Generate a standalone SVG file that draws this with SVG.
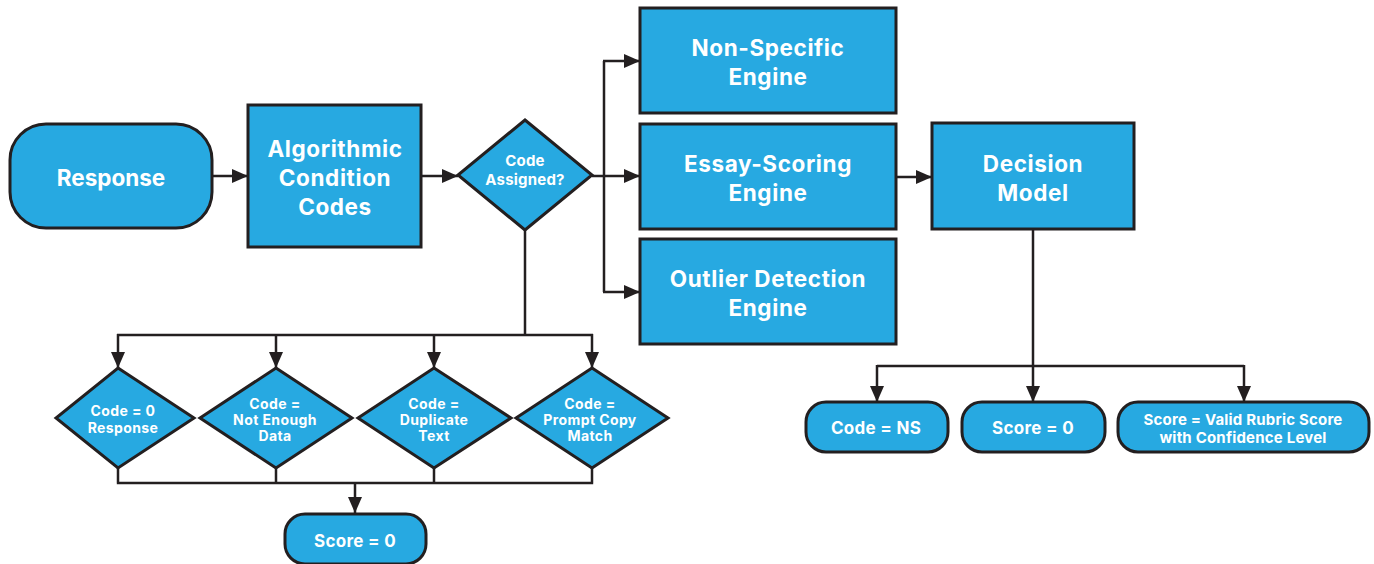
<svg xmlns="http://www.w3.org/2000/svg" width="1374" height="564" viewBox="0 0 1374 564">
  <defs>
    <style>
      .box { fill: #27a9e1; stroke: #231f20; stroke-width: 3; }
      .lbl { fill: #ffffff; font-family: Inter, "Liberation Sans", sans-serif; font-weight: 700; text-anchor: middle; }
      .big { font-size: 22.5px; letter-spacing: 0.6px; }
      .mid { font-size: 17px; letter-spacing: 0.3px; }
      .sm { font-size: 15px; letter-spacing: 0.2px; }
      .dia { font-size: 14px; letter-spacing: 0.4px; }
      .wire { fill: none; stroke: #231f20; stroke-width: 2.5; stroke-linejoin: miter; }
      .arw { marker-end: url(#head); }
    </style>
    <marker id="head" viewBox="0 0 16 14" refX="16" refY="7" markerWidth="16" markerHeight="14" markerUnits="userSpaceOnUse" orient="auto">
      <path d="M0,0 L16,7 L0,14 Z" fill="#231f20"/>
    </marker>
  </defs>

  <rect width="1374" height="564" fill="#ffffff"/>

  <!-- connectors -->
  <g id="connectors">
    <path class="wire arw" d="M212,176 H248"/>
    <path class="wire arw" d="M421,176 H458"/>
    <!-- fan-out to the engines -->
    <path class="wire" d="M592,176 H604 M604,61 V292"/>
    <path class="wire arw" d="M603,61 H640"/>
    <path class="wire arw" d="M604,176 H640"/>
    <path class="wire arw" d="M603,292 H640"/>
    <!-- condition code branches -->
    <path class="wire" d="M525,230 V335 M117,335 H593"/>
    <path class="wire arw" d="M118,334 V368"/>
    <path class="wire arw" d="M276,335 V368"/>
    <path class="wire arw" d="M434,335 V368"/>
    <path class="wire arw" d="M592,334 V368"/>
    <!-- merge into score = 0 -->
    <path class="wire" d="M118,468 V483 M276,468 V483 M434,468 V483 M592,468 V483 M116.8,483 H593.2"/>
    <path class="wire arw" d="M355,483 V513"/>
    <!-- essay scoring to decision model -->
    <path class="wire arw" d="M896,177 H932"/>
    <!-- decision outcomes -->
    <path class="wire arw" d="M1033,229 V402"/>
    <path class="wire" d="M877,366 H1244"/>
    <path class="wire arw" d="M877,365 V402"/>
    <path class="wire arw" d="M1244,365 V402"/>
  </g>

  <g id="response">
    <rect class="box" x="10" y="124" width="202" height="104" rx="36"/>
    <text class="lbl big" x="111" y="186" style="letter-spacing:0">Response</text>
  </g>

  <g id="algorithmic">
    <rect class="box" x="248" y="105" width="173" height="142"/>
    <text class="lbl big" x="335" y="157">Algorithmic</text>
    <text class="lbl big" x="335" y="186">Condition</text>
    <text class="lbl big" x="335" y="215">Codes</text>
  </g>

  <g id="code-assigned">
    <polygon class="box" points="525,120 592,175 525,230 458,175" stroke-width="2.5"/>
    <text class="lbl sm" x="525" y="166">Code</text>
    <text class="lbl sm" x="525" y="185">Assigned?</text>
  </g>

  <g id="non-specific">
    <rect class="box" x="640" y="8" width="256" height="105"/>
    <text class="lbl big" x="768" y="56">Non-Specific</text>
    <text class="lbl big" x="768" y="85">Engine</text>
  </g>

  <g id="essay-scoring">
    <rect class="box" x="640" y="124" width="256" height="105"/>
    <text class="lbl big" x="768" y="172">Essay-Scoring</text>
    <text class="lbl big" x="768" y="201">Engine</text>
  </g>

  <g id="outlier">
    <rect class="box" x="640" y="239" width="256" height="105"/>
    <text class="lbl big" x="768" y="287">Outlier Detection</text>
    <text class="lbl big" x="768" y="316">Engine</text>
  </g>

  <g id="decision-model">
    <rect class="box" x="932" y="123" width="202" height="106"/>
    <text class="lbl big" x="1033" y="172">Decision</text>
    <text class="lbl big" x="1033" y="201">Model</text>
  </g>

  <g id="code-zero">
    <polygon class="box" points="118,368 194,418 118,468 56,418" stroke-width="2.5"/>
    <text class="lbl dia" x="123" y="416">Code = 0</text>
    <text class="lbl dia" x="123" y="433">Response</text>
  </g>

  <g id="code-ned">
    <polygon class="box" points="276,368 352,418 276,468 200,418" stroke-width="2.5"/>
    <text class="lbl dia" x="275" y="409">Code =</text>
    <text class="lbl dia" x="275" y="425">Not Enough</text>
    <text class="lbl dia" x="275" y="441">Data</text>
  </g>

  <g id="code-duplicate">
    <polygon class="box" points="434,368 511,418 434,468 358,418" stroke-width="2.5"/>
    <text class="lbl dia" x="434" y="409">Code =</text>
    <text class="lbl dia" x="434" y="425">Duplicate</text>
    <text class="lbl dia" x="434" y="441">Text</text>
  </g>

  <g id="code-prompt-copy">
    <polygon class="box" points="592,368 668,418 592,468 516,418" stroke-width="2.5"/>
    <text class="lbl dia" x="590" y="409">Code =</text>
    <text class="lbl dia" x="590" y="425">Prompt Copy</text>
    <text class="lbl dia" x="590" y="441">Match</text>
  </g>

  <g id="score-zero-left">
    <rect class="box" x="285" y="514" width="141" height="50" rx="20"/>
    <text class="lbl mid" x="355" y="547">Score = 0</text>
  </g>

  <g id="code-ns">
    <rect class="box" x="806" y="402" width="142" height="50" rx="20"/>
    <text class="lbl mid" x="876" y="434">Code = NS</text>
  </g>

  <g id="score-zero-right">
    <rect class="box" x="962" y="402" width="143" height="50" rx="20"/>
    <text class="lbl mid" x="1033" y="434">Score = 0</text>
  </g>

  <g id="valid-score">
    <rect class="box" x="1118" y="402" width="251" height="50" rx="20"/>
    <text class="lbl sm" x="1243" y="425">Score = Valid Rubric Score</text>
    <text class="lbl sm" x="1243" y="443">with Confidence Level</text>
  </g>
</svg>
